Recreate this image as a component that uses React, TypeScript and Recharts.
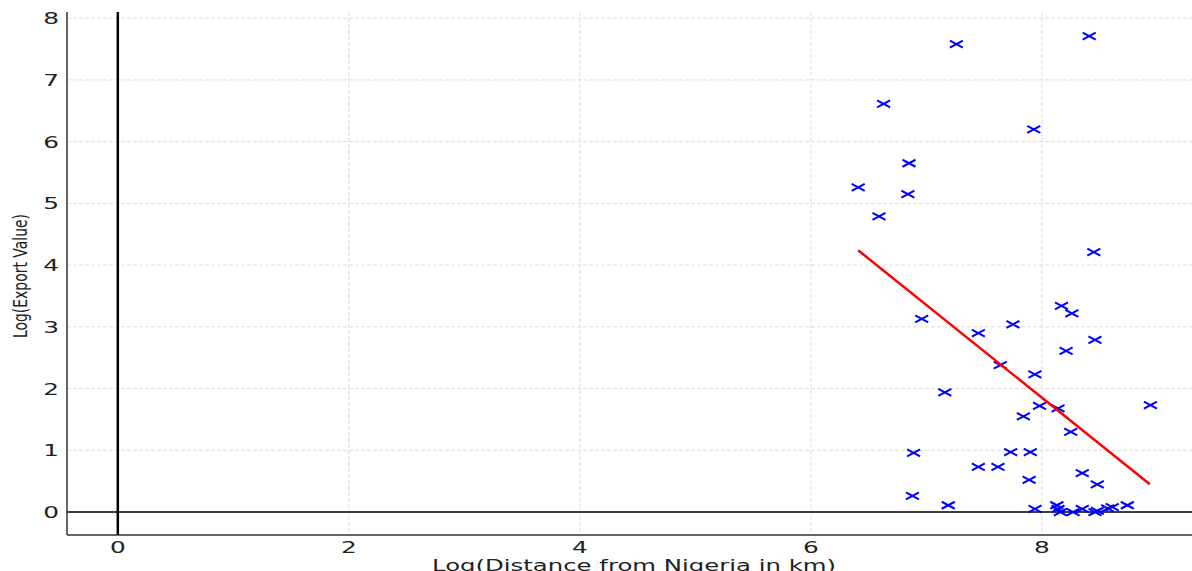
import { ScatterChart, Scatter, XAxis, YAxis, CartesianGrid, ReferenceLine } from "recharts";

// log distance (x) and log export value (y)
const logDistance = [
  6.41, 6.63, 7.26, 8.41, 7.93, 6.85, 6.59, 6.84, 8.45, 6.96,
  7.45, 7.75, 8.17, 8.26, 8.46, 8.21, 7.64, 7.94, 7.16, 7.98,
  8.14, 7.84, 8.94, 8.25, 6.89, 7.73, 7.9, 7.45, 7.62, 7.89,
  8.35, 8.48, 6.88, 7.19, 7.94, 8.13, 8.14, 8.16, 8.27, 8.35,
  8.46, 8.48, 8.57, 8.61, 8.74,
];
const logExport = [
  5.26, 6.61, 7.58, 7.71, 6.2, 5.65, 4.79, 5.15, 4.21, 3.13,
  2.9, 3.04, 3.34, 3.22, 2.79, 2.61, 2.38, 2.23, 1.94, 1.72,
  1.68, 1.55, 1.73, 1.3, 0.96, 0.97, 0.97, 0.73, 0.73, 0.52,
  0.63, 0.45, 0.26, 0.11, 0.05, 0.11, 0.05, 0.0, 0.0, 0.05,
  0.0, 0.02, 0.06, 0.08, 0.11,
];
// fitted regression line endpoints
const fitX = [6.41, 8.935];
const fitY = [4.24, 0.45];

const xTicks = [0, 2, 4, 6, 8];
const yTicks = [0, 1, 2, 3, 4, 5, 6, 7, 8];

const points = logDistance.map((x, i) => ({ x, y: logExport[i] }));
const fitLine = fitX.map((x, i) => ({ x, y: fitY[i] }));

const FONT = "DejaVu Sans";

const XMark = (props: any) => {
  const { cx, cy } = props;
  if (cx == null || cy == null) return <g />;
  return (
    <g stroke="#0000ff" strokeWidth={2}>
      <line x1={cx - 6.5} y1={cy - 3.5} x2={cx + 6.5} y2={cy + 3.5} />
      <line x1={cx - 6.5} y1={cy + 3.5} x2={cx + 6.5} y2={cy - 3.5} />
    </g>
  );
};

const NoMark = () => <g />;

const XTick = (props: any) => {
  const { x, payload } = props;
  return (
    <text
      transform={`translate(${x},553) scale(1.55,1)`}
      textAnchor="middle"
      fontFamily={FONT}
      fontSize={16}
      fill="#222"
    >
      {payload.value}
    </text>
  );
};

const YTick = (props: any) => {
  const { y, payload } = props;
  return (
    <text
      transform={`translate(59,${y + 6}) scale(1.55,1)`}
      textAnchor="end"
      fontFamily={FONT}
      fontSize={16}
      fill="#222"
    >
      {payload.value}
    </text>
  );
};

const App = () => {
  return (
    <div style={{ position: "absolute", left: 0, top: 0, background: "#fff" }}>
      <ScatterChart
        width={1192}
        height={571}
        margin={{ top: 12, right: 0, bottom: 0, left: 0 }}
      >
        <CartesianGrid
          stroke="#dddddd"
          strokeDasharray="4 2"
          horizontalValues={yTicks}
          verticalValues={xTicks}
        />
        <XAxis
          type="number"
          dataKey="x"
          domain={[-0.44, 9.3]}
          ticks={xTicks}
          allowDataOverflow
          height={36}
          tick={<XTick />}
          tickLine={false}
          axisLine={{ stroke: "#333", strokeWidth: 1.5 }}
        />
        <YAxis
          type="number"
          dataKey="y"
          domain={[-0.372, 8.1]}
          ticks={yTicks}
          allowDataOverflow
          width={67}
          tick={<YTick />}
          tickLine={false}
          axisLine={{ stroke: "#333", strokeWidth: 1.5 }}
        />
        <ReferenceLine x={0} stroke="#000" strokeWidth={2.5} />
        <ReferenceLine y={0} stroke="#000" strokeWidth={1.5} />
        <Scatter data={points} shape={<XMark />} isAnimationActive={false} />
        <Scatter
          data={fitLine}
          line={{ stroke: "#ff0000", strokeWidth: 2.5 }}
          shape={<NoMark />}
          isAnimationActive={false}
        />
      </ScatterChart>
      <svg
        width={1192}
        height={571}
        style={{ position: "absolute", left: 0, top: 0, pointerEvents: "none" }}
      >
        <text
          x={634}
          y={571}
          textAnchor="middle"
          fontFamily={FONT}
          fontSize={15}
          textLength={404}
          lengthAdjust="spacingAndGlyphs"
          fill="#222"
        >
          Log(Distance from Nigeria in km)
        </text>
        <text
          transform="translate(27,276) rotate(-90)"
          textAnchor="middle"
          fontFamily={FONT}
          fontSize={19}
          textLength={124}
          lengthAdjust="spacingAndGlyphs"
          fill="#222"
        >
          Log(Export Value)
        </text>
      </svg>
    </div>
  );
};

export default App;
